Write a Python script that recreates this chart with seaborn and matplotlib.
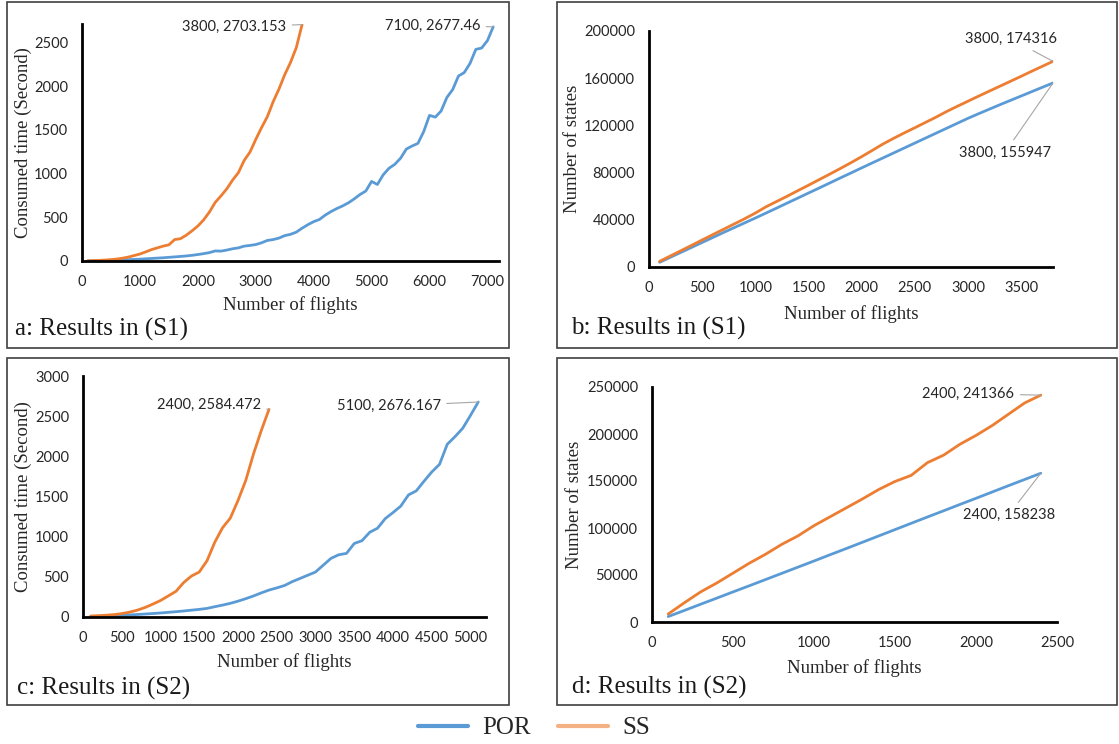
import numpy as np
import matplotlib
matplotlib.use("Agg")
import matplotlib.pyplot as plt
import seaborn as sns
from matplotlib.lines import Line2D
from matplotlib.patches import Rectangle

sns.set_style("white")
plt.rcParams['font.family'] = ['Liberation Serif', 'DejaVu Serif']

BLUE = '#5b9bd5'
ORANGE = '#ed7d31'
NUM_FONT = ['Lato', 'DejaVu Sans']
TXT = '#262626'

# ---- data ----
# (a) consumed time, scenario S1
flights_a_por = list(range(100, 7200, 100))
time_a_por = [1, 2, 3, 5, 7, 9, 12, 15, 18, 21,
              25, 29, 33, 37, 42, 47, 52, 58, 65, 74,
              84, 96, 115, 113, 125, 140, 150, 170, 178, 188,
              208, 235, 245, 262, 290, 305, 330, 375, 415, 450,
              475, 525, 565, 600, 630, 665, 710, 760, 800, 910,
              875, 985, 1060, 1105, 1175, 1280, 1315, 1345, 1480, 1665,
              1645, 1715, 1870, 1960, 2115, 2155, 2260, 2420, 2435, 2520,
              2677.46]
flights_a_ss = list(range(100, 3900, 100))
time_a_ss = [2, 4, 7, 11, 16, 22, 32, 45, 62, 80,
             104, 130, 150, 170, 185, 245, 255, 295, 345, 400,
             470, 560, 670, 745, 825, 925, 1010, 1150, 1245, 1390,
             1525, 1650, 1820, 1965, 2130, 2270, 2440, 2703.153]

# (b) number of states, scenario S1
flights_b = list(range(100, 3900, 100))
states_b_por = [4000, 8200, 12400, 16600, 20800, 25000, 29200, 33300, 37400, 41500,
                45700, 49900, 54200, 58400, 62700, 66900, 71200, 75500, 79700, 84000,
                88200, 92400, 96600, 100800, 105000, 109200, 113400, 117600, 121800, 126000,
                129900, 133700, 137500, 141200, 144900, 148600, 152300, 155947]
states_b_ss = [4800, 9300, 13800, 18300, 22900, 27400, 31900, 36400, 40900, 45700,
               51000, 55500, 60000, 64700, 69300, 74000, 78700, 83500, 88400, 93500,
               98800, 104200, 109000, 113600, 118000, 122500, 127000, 131800, 136200, 140500,
               144800, 149000, 153200, 157400, 161600, 165900, 170100, 174316]

# (c) consumed time, scenario S2
flights_c_por = list(range(100, 5200, 100))
time_c_por = [8, 10, 13, 17, 21, 26, 31, 37, 43, 50,
              58, 66, 75, 85, 95, 107, 128, 148, 170, 197,
              228, 262, 300, 335, 362, 392, 440, 480, 520, 560,
              645, 730, 775, 792, 915, 950, 1055, 1105, 1225, 1300,
              1380, 1520, 1570, 1690, 1805, 1900, 2150, 2245, 2350, 2510,
              2676.167]
flights_c_ss = list(range(100, 2500, 100))
time_c_ss = [12, 16, 22, 30, 42, 60, 85, 118, 160, 205,
             262, 320, 430, 510, 560, 700, 930, 1110, 1230, 1450,
             1700, 2030, 2320, 2584.472]

# (d) number of states, scenario S2
flights_d = list(range(100, 2500, 100))
states_d_por = [5800, 12300, 18900, 25400, 32000, 38500, 45100, 51700, 58300, 64900,
                71600, 78200, 84900, 91600, 98300, 105000, 111700, 118300, 125000, 131600,
                138300, 145000, 151600, 158238]
states_d_ss = [8500, 20500, 32000, 41500, 52000, 62500, 72000, 82500, 91500, 102500,
               112000, 121500, 131000, 141000, 149500, 156000, 169500, 177500, 189000, 198500,
               209000, 221000, 233000, 241366]

W, H = 1119, 744
fig = plt.figure(figsize=(W / 100, H / 100), dpi=100)


def px_axes(l, t, r, b):
    return fig.add_axes([l / W, 1 - b / H, (r - l) / W, (b - t) / H])


def style(ax, xlim, xticks, ylim, yticks, ylabel, ylab_x, xlab_y):
    ax.set_xlim(xlim)
    ax.set_ylim(ylim)
    ax.set_xticks(xticks)
    ax.set_xticklabels([str(t) for t in xticks], family=NUM_FONT, fontsize=10.5, color=TXT)
    ax.set_yticks(yticks)
    ax.set_yticklabels([str(t) for t in yticks], family=NUM_FONT, fontsize=10.5, color=TXT)
    ax.tick_params(length=0, pad=10)
    for s in ['top', 'right']:
        ax.spines[s].set_visible(False)
    for s in ['left', 'bottom']:
        ax.spines[s].set_color('black')
        ax.spines[s].set_linewidth(2)
    ax.set_xlabel('Number of flights', fontsize=13.5, color=TXT)
    ax.set_ylabel(ylabel, fontsize=13.5, color=TXT)
    ax.xaxis.set_label_coords(0.5, xlab_y)
    ax.yaxis.set_label_coords(ylab_x, 0.5)
    ax.grid(False)


def label_end(ax, x, y, dx, dy):
    ax.annotate(f"{x[-1]}, {y[-1]}", xy=(x[-1], y[-1]), xytext=(dx, dy),
                textcoords='offset points', ha='right', va='center',
                family=NUM_FONT, fontsize=10.5, color=TXT,
                arrowprops=dict(arrowstyle='-', color='#a6a6a6', lw=0.8,
                                shrinkA=2, shrinkB=0))


# panel a
ax_a = px_axes(82, 24, 499, 261)
sns.lineplot(x=flights_a_por, y=time_a_por, ax=ax_a, color=BLUE, linewidth=2)
sns.lineplot(x=flights_a_ss, y=time_a_ss, ax=ax_a, color=ORANGE, linewidth=2)
style(ax_a, (0, 7200), list(range(0, 8000, 1000)), (0, 2710), list(range(0, 3000, 500)),
      'Consumed time (Second)', -0.12, -0.148)
label_end(ax_a, flights_a_ss, time_a_ss, -11.5, -2)
label_end(ax_a, flights_a_por, time_a_por, -9.4, 1)

# panel b
ax_b = px_axes(649, 31, 1053, 267)
sns.lineplot(x=flights_b, y=states_b_por, ax=ax_b, color=BLUE, linewidth=2)
sns.lineplot(x=flights_b, y=states_b_ss, ax=ax_b, color=ORANGE, linewidth=2)
style(ax_b, (0, 3800), list(range(0, 4000, 500)), (0, 200000), list(range(0, 240000, 40000)),
      'Number of states', -0.168, -0.161)
label_end(ax_b, flights_b, states_b_ss, 3, 16)
label_end(ax_b, flights_b, states_b_por, -1.4, -50)

# panel c
ax_c = px_axes(83, 376, 486, 617)
sns.lineplot(x=flights_c_por, y=time_c_por, ax=ax_c, color=BLUE, linewidth=2)
sns.lineplot(x=flights_c_ss, y=time_c_ss, ax=ax_c, color=ORANGE, linewidth=2)
style(ax_c, (0, 5200), list(range(0, 5500, 500)), (0, 3000), list(range(0, 3500, 500)),
      'Consumed time (Second)', -0.127, -0.149)
label_end(ax_c, flights_c_ss, time_c_ss, -6, 3)
label_end(ax_c, flights_c_por, time_c_por, -27, -3)

# panel d
ax_d = px_axes(652, 387, 1057, 622)
sns.lineplot(x=flights_d, y=states_d_por, ax=ax_d, color=BLUE, linewidth=2)
sns.lineplot(x=flights_d, y=states_d_ss, ax=ax_d, color=ORANGE, linewidth=2)
style(ax_d, (0, 2500), list(range(0, 3000, 500)), (0, 250000), list(range(0, 300000, 50000)),
      'Number of states', -0.170, -0.157)
label_end(ax_d, flights_d, states_d_ss, -19, 1)
label_end(ax_d, flights_d, states_d_por, 10, -30)

# panel frames and captions
boxes = [(7, 2, 509, 348), (557, 2, 1117, 348), (7, 358, 509, 705), (557, 358, 1117, 705)]
captions = [('a: Results in (S1)', 15, 329), ('b: Results in (S1)', 571, 328),
            ('c: Results in (S2)', 17, 688), ('d: Results in (S2)', 572, 687)]
for (l, t, r, b) in boxes:
    fig.add_artist(Rectangle((l / W, 1 - b / H), (r - l) / W, (b - t) / H,
                             transform=fig.transFigure, fill=False,
                             edgecolor='#404040', linewidth=1.2))
for txt, x, y in captions:
    fig.text(x / W, 1 - y / H, txt, fontsize=18, va='center', ha='left', color='#1a1a1a')

# legend
handles = [Line2D([0], [0], color=BLUE, lw=3), Line2D([0], [0], color='#f4b183', lw=3)]
fig.legend(handles, ['POR', 'SS'], loc='center', bbox_to_anchor=(534 / W, 1 - 728 / H),
           ncol=2, frameon=False, fontsize=18, handlelength=2.0, handletextpad=0.55,
           columnspacing=1.1)

fig.savefig('out.png', dpi=100)
